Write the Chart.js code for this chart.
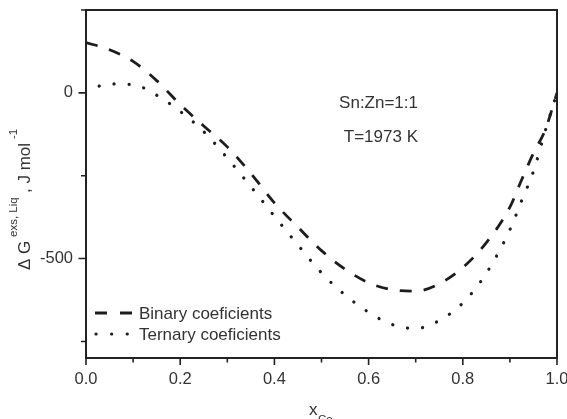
<!DOCTYPE html>
<html><head><meta charset="utf-8">
<script src="https://cdn.jsdelivr.net/npm/chart.js@4/dist/chart.umd.min.js"></script>
<style>html,body{margin:0;padding:0;background:#fff}#wrap{width:567px;height:419px}</style>
</head><body><div id="wrap"><canvas id="c" width="567" height="419"></canvas></div>
<script>
// ---- data ----
const xValues       = [0, 0.05, 0.10, 0.15, 0.20, 0.25, 0.30, 0.35, 0.40, 0.45, 0.50, 0.55, 0.60, 0.65, 0.70, 0.75, 0.80, 0.85, 0.90, 0.925, 0.95, 0.975, 1.0];
const binaryValues  = [152, 130, 95, 37, -35, -100, -163, -243, -332, -405, -476, -532, -573, -594, -598, -576, -527, -452, -345, -262, -182, -112, 0];
const ternaryValues = [5, 27, 25, -7, -56, -117, -197, -283, -372, -459, -543, -610, -662, -699, -711, -687, -634, -544, -413, -325, -237, -115, 0];
const seriesNames   = ['Binary coeficients', 'Ternary coeficients'];
const xMajorTicks   = [0, 0.2, 0.4, 0.6, 0.8, 1.0];
const xMinorTicks   = [0.1, 0.3, 0.5, 0.7, 0.9];
const yMajorTicks   = [-500, 0];
const yMinorTicks   = [-750, -250, 250];
const annotationLines = ['Sn:Zn=1:1', 'T=1973 K'];

const FONT = '"Liberation Sans", Arial, sans-serif';
const INK = '#222';
const TXT = '#333';

const toPts = (vals) => xValues.map((x, i) => ({x: x, y: vals[i]}));

const decorPlugin = {
  id: 'decor',
  afterDraw(chart) {
    const ctx = chart.ctx;
    const a = chart.chartArea;
    const xs = chart.scales.x, ys = chart.scales.y;
    ctx.save();
    // frame
    ctx.strokeStyle = INK;
    ctx.lineWidth = 2;
    ctx.setLineDash([]);
    ctx.strokeRect(a.left, a.top, a.right - a.left, a.bottom - a.top);
    // ticks
    ctx.lineWidth = 1.6;
    ctx.beginPath();
    xMajorTicks.forEach(v => { const p = xs.getPixelForValue(v); ctx.moveTo(p, a.bottom); ctx.lineTo(p, a.bottom + 7); });
    xMinorTicks.forEach(v => { const p = xs.getPixelForValue(v); ctx.moveTo(p, a.bottom); ctx.lineTo(p, a.bottom + 4.5); });
    yMajorTicks.forEach(v => { const p = ys.getPixelForValue(v); ctx.moveTo(a.left, p); ctx.lineTo(a.left - 7.5, p); });
    yMinorTicks.forEach(v => { const p = ys.getPixelForValue(v); ctx.moveTo(a.left, p); ctx.lineTo(a.left - 5, p); });
    ctx.stroke();

    // annotations
    ctx.fillStyle = TXT;
    ctx.font = '17px ' + FONT;
    ctx.textAlign = 'right';
    ctx.textBaseline = 'alphabetic';
    ctx.fillText(annotationLines[0], 418, 108);
    ctx.fillText(annotationLines[1], 418, 142);

    // legend
    const ds = chart.data.datasets;
    ctx.textAlign = 'left';
    const rows = [{y: 313, ty: 319}, {y: 334, ty: 340}];
    ds.forEach((d, i) => {
      ctx.save();
      ctx.strokeStyle = d.borderColor;
      ctx.lineWidth = d.borderWidth;
      ctx.lineCap = d.borderCapStyle;
      ctx.setLineDash(i === 0 ? [12, 13] : [0.1, 15.5]);
      ctx.beginPath();
      ctx.moveTo(i === 0 ? 95 : 96, rows[i].y);
      ctx.lineTo(132, rows[i].y);
      ctx.stroke();
      ctx.restore();
      ctx.fillText(d.label, 139, rows[i].ty);
    });

    // x axis title
    ctx.font = '17px ' + FONT;
    ctx.fillText('x', 309, 415);
    ctx.font = '11.5px ' + FONT;
    ctx.fillText('Co', 318, 423);

    // y axis title
    ctx.save();
    ctx.translate(30, 270);
    ctx.rotate(-Math.PI / 2);
    ctx.textAlign = 'left';
    ctx.font = '17px ' + FONT;
    ctx.fillText('\u0394 G', 0, 0);
    ctx.font = '11.5px ' + FONT;
    ctx.fillText('exs, Liq', 33, -13);
    ctx.font = '17px ' + FONT;
    ctx.fillText(', J mol', 77, 0);
    ctx.font = '11.5px ' + FONT;
    ctx.fillText('-1', 131, -13);
    ctx.restore();

    ctx.restore();
  }
};

new Chart(document.getElementById('c'), {
  type: 'line',
  data: {
    datasets: [
      { label: seriesNames[0], data: toPts(binaryValues), borderColor: '#1c1c1c', borderWidth: 2.8,
        borderDash: [12, 12], borderCapStyle: 'butt', pointRadius: 0, fill: false, cubicInterpolationMode: 'monotone' },
      { label: seriesNames[1], data: toPts(ternaryValues), borderColor: '#1c1c1c', borderWidth: 3.2,
        borderDash: [0.1, 15], borderDashOffset: 1, borderCapStyle: 'round', pointRadius: 0, fill: false, cubicInterpolationMode: 'monotone' }
    ]
  },
  options: {
    responsive: false,
    animation: false,
    devicePixelRatio: 1,
    layout: { padding: { top: 10, right: 10, left: 0, bottom: 0 } },
    plugins: { legend: { display: false }, tooltip: { enabled: false } },
    scales: {
      x: {
        type: 'linear', min: 0, max: 1,
        grid: { display: false, drawTicks: false },
        border: { display: false },
        afterBuildTicks(s) { s.ticks = xMajorTicks.map(v => ({value: v})); },
        ticks: {
          padding: 12, color: TXT, maxRotation: 0, minRotation: 0, autoSkip: false,
          font: { family: FONT, size: 16.5 },
          callback: (v) => Number(v).toFixed(1)
        },
        afterFit(s) { s.height = 61; s.paddingLeft = 0; s.paddingRight = 0; }
      },
      y: {
        type: 'linear', min: -800, max: 250,
        grid: { display: false, drawTicks: false },
        border: { display: false },
        afterBuildTicks(s) { s.ticks = yMajorTicks.map(v => ({value: v})); },
        ticks: {
          padding: 13, color: TXT, autoSkip: false,
          font: { family: FONT, size: 16.5 },
          callback: (v) => String(Math.round(Number(v)))
        },
        afterFit(s) { s.width = 86; s.paddingTop = 0; s.paddingBottom = 0; }
      }
    }
  },
  plugins: [decorPlugin]
});
</script>
</body></html>
